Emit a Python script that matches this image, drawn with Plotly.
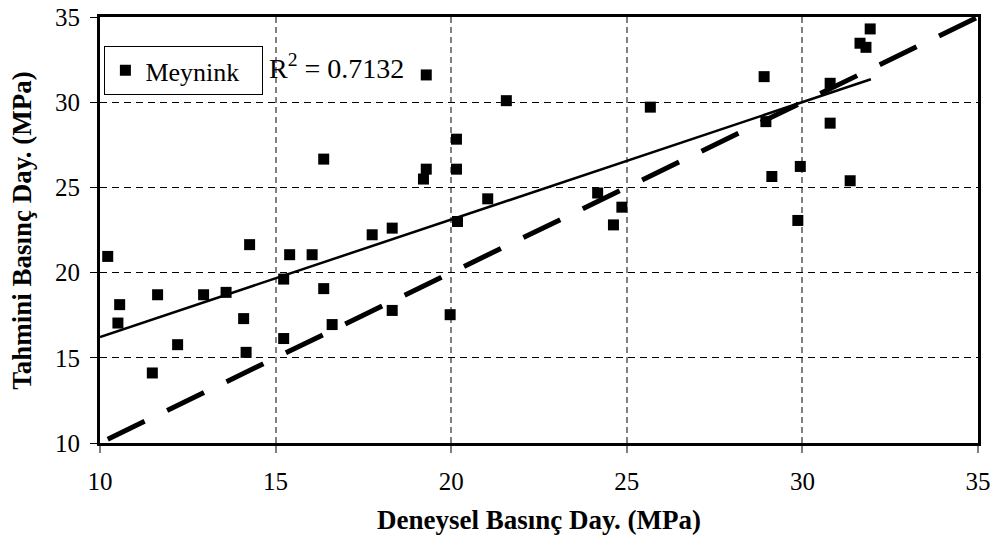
import plotly.graph_objects as go

# Measured (Deneysel) vs predicted (Tahmini) pressure, MPa
deneysel = [10.22, 10.56, 10.51, 11.64, 11.49, 12.21, 12.95, 13.59, 14.26, 14.09,
            14.16, 15.23, 15.40, 15.23, 16.04, 16.37, 16.61, 16.37, 17.75, 18.32,
            18.32, 19.21, 19.29, 19.29, 20.15, 20.15, 20.18, 19.97, 21.04, 21.57,
            24.17, 24.62, 24.86, 25.67, 28.91, 28.96, 29.13, 29.94, 29.87, 30.79,
            30.79, 31.36, 31.64, 31.81, 31.93]
tahmini = [20.95, 18.12, 17.04, 18.70, 14.11, 15.77, 18.70, 18.84, 21.64, 17.30,
           15.32, 19.62, 21.05, 16.13, 21.05, 19.06, 16.95, 26.66, 22.22, 22.61,
           17.78, 25.49, 26.07, 31.60, 27.83, 26.07, 23.00, 17.53, 24.33, 30.09,
           24.67, 22.80, 23.84, 29.71, 31.50, 28.86, 25.64, 26.23, 23.06, 31.11,
           28.77, 25.39, 33.46, 33.22, 34.30]

# Linear trend line and 1:1 line
trend_x = [10.0, 31.95]
trend_y = [16.22, 31.35]
ideal_x = [10.22, 35.0]
ideal_y = [10.22, 35.0]

series_name = "Meynink"
r2_text = "R<sup>2</sup> = 0.7132"
x_title = "Deneysel Basınç Day. (MPa)"
y_title = "Tahmini Basınç Day. (MPa)"
tick_vals = [10, 15, 20, 25, 30, 35]

FONT = "Liberation Serif"

fig = go.Figure()
fig.add_trace(go.Scatter(x=ideal_x, y=ideal_y, mode="lines",
                         line=dict(color="black", width=5, dash="41px,25px"),
                         showlegend=False, hoverinfo="skip"))
fig.add_trace(go.Scatter(x=trend_x, y=trend_y, mode="lines",
                         line=dict(color="black", width=2.5),
                         showlegend=False, hoverinfo="skip"))
fig.add_trace(go.Scatter(x=deneysel, y=tahmini, mode="markers", name=series_name,
                         marker=dict(symbol="square", size=11, color="black",
                                     line=dict(width=0))))

# the page body has an 8px default margin, so the figure is 8px smaller
fig.update_layout(
    width=991, height=539,
    margin=dict(l=92, r=21, t=9, b=104, autoexpand=False),
    paper_bgcolor="white", plot_bgcolor="white",
    font=dict(family=FONT, color="black"),
    legend=dict(x=0.005, y=0.932, xanchor="left", yanchor="top",
                orientation="h",
                bordercolor="black", borderwidth=1, bgcolor="white",
                entrywidth=112, entrywidthmode="pixels",
                font=dict(size=26, family=FONT)),
    annotations=[
        dict(text=r2_text, xref="paper", yref="paper", x=0.19, y=0.884,
             xanchor="left", yanchor="middle", showarrow=False,
             font=dict(size=28, family=FONT)),
        dict(text="<b>" + x_title + "</b>", xref="paper", yref="paper",
             x=0.5, y=-0.181, xanchor="center", yanchor="middle",
             showarrow=False, font=dict(size=27, family=FONT)),
        dict(text="<b>" + y_title + "</b>", xref="paper", yref="paper",
             x=-0.089, y=0.5, xanchor="center", yanchor="middle", textangle=-90,
             showarrow=False, font=dict(size=27, family=FONT)),
    ],
)
fig.update_xaxes(range=[10, 35], tickvals=tick_vals, showline=True, linewidth=3,
                 linecolor="black", mirror=True, ticks="outside", ticklen=7,
                 tickcolor="#808080", tickwidth=1.5, ticklabelstandoff=7,
                 tickfont=dict(size=25, family=FONT), automargin=False,
                 ticklabeloverflow="allow",
                 showgrid=True, gridcolor="#808080", gridwidth=1.5,
                 griddash="6px,4px", zeroline=False)
fig.update_yaxes(range=[10, 35], tickvals=tick_vals, showline=True, linewidth=3,
                 linecolor="black", mirror=True, ticks="outside", ticklen=7,
                 tickcolor="black", tickwidth=1, ticklabelstandoff=5,
                 tickfont=dict(size=25, family=FONT), automargin=False,
                 ticklabeloverflow="allow",
                 showgrid=True, gridcolor="black", gridwidth=1,
                 griddash="7px,5px", zeroline=False)

fig.write_html("out.html")
